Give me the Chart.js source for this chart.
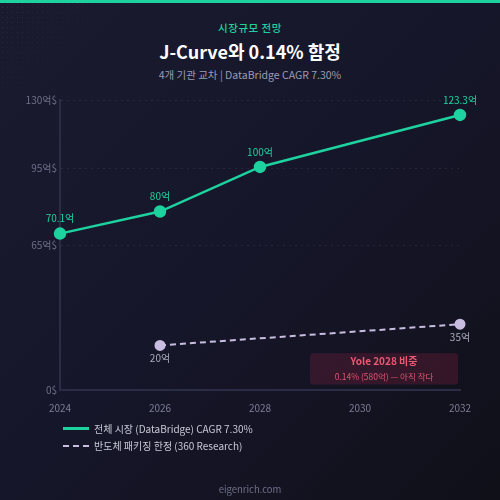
<!DOCTYPE html>
<html>
<head>
<meta charset="utf-8">
<script src="https://cdn.jsdelivr.net/npm/chart.js@4"></script>
<style>
  html, body { margin: 0; padding: 0; }
  body {
    width: 500px; height: 500px; overflow: hidden; position: relative;
    background: linear-gradient(135deg, #1b1b2f 0%, #16162a 50%, #101019 100%);
    font-family: "Noto Sans CJK KR", "Noto Sans", sans-serif;
  }
  .dots {
    position: absolute; left: 0; top: 0; width: 110px; height: 90px;
    background-image: radial-gradient(rgba(255,255,255,0.08) 0.7px, transparent 0.8px);
    background-size: 5px 5px;
    -webkit-mask-image: linear-gradient(135deg, #000 0%, transparent 70%);
  }
  .topbar { position: absolute; left: 0; top: 0; width: 500px; height: 3px; background: #1ed2a0; }
  .kicker { position: absolute; top: 20px; width: 100%; text-align: center; color: #1ed2a0; font-size: 10.5px; font-weight: 500; letter-spacing: 0.5px; }
  .title { position: absolute; top: 38px; width: 100%; text-align: center; color: #fff; font-size: 18px; font-weight: 700; }
  .sub { position: absolute; top: 67px; width: 100%; text-align: center; color: #9a9cb0; font-size: 10.5px; }
  .chartbox { position: absolute; left: 0; top: 0; width: 500px; height: 500px; }
  .legend { position: absolute; left: 63px; top: 420px; font-size: 10px; color: #c8c9d6; }
  .legend div { display: flex; align-items: center; height: 17px; }
  .legend span.sw { display: inline-block; width: 26px; margin-right: 5px; }
  .footer { position: absolute; top: 482px; width: 100%; text-align: center; color: #6e7088; font-size: 9.5px; }
</style>
</head>
<body>
<div class="topbar"></div>
<div class="dots"></div>
<div class="kicker">시장규모 전망</div>
<div class="title">J-Curve와 0.14% 함정</div>
<div class="sub">4개 기관 교차 | DataBridge CAGR 7.30%</div>
<div class="chartbox"><canvas id="chart"></canvas></div>
<div class="legend">
  <div><span class="sw" style="border-top:3px solid #1ed2a0"></span>전체 시장 (DataBridge) CAGR 7.30%</div>
  <div><span class="sw" style="border-top:2.5px dashed #c8bde0"></span>반도체 패키징 한정 (360 Research)</div>
</div>
<div class="footer">eigenrich.com</div>
<script>
// Data
const years = ['2024', '2026', '2028', '2030', '2032'];
const marketValues = [70.1, 80, 100, null, 123.3];
const marketLabels = ['70.1억', '80억', '100억', null, '123.3억'];
const packagingValues = [null, 20, null, null, 29.5];
const packagingLabels = [null, '20억', null, null, '35억'];
const yTickValues = [0, 65, 99.5, 130];
const yTickLabels = ['0$', '65억$', '95억$', '130억$'];
const noteTitle = 'Yole 2028 비중';
const noteText = '0.14% (580억) — 아직 작다';

const GREEN = '#1ed2a0';
const LAVENDER = '#c8bde0';
const FONT = '"Noto Sans CJK KR", "Noto Sans", sans-serif';

// Point labels drawn next to each point
const pointLabels = {
  id: 'pointLabels',
  afterDatasetsDraw(chart) {
    const ctx = chart.ctx;
    chart.data.datasets.forEach((ds, i) => {
      const meta = chart.getDatasetMeta(i);
      meta.data.forEach((pt, j) => {
        const text = ds.pointText[j];
        if (!text) return;
        ctx.save();
        ctx.font = '10px ' + FONT;
        ctx.fillStyle = ds.labelColor;
        ctx.textAlign = 'center';
        ctx.textBaseline = 'middle';
        ctx.fillText(text, pt.x, pt.y + ds.labelOffset);
        ctx.restore();
      });
    });
  }
};

// Note box near the bottom right
const noteBox = {
  id: 'noteBox',
  afterDatasetsDraw(chart) {
    const ctx = chart.ctx;
    const x = chart.scales.x, y = chart.scales.y;
    const left = x.getPixelForValue(2.5);
    const right = x.getPixelForValue(3.98);
    const top = y.getPixelForValue(16.5);
    const bottom = y.getPixelForValue(2.5);
    ctx.save();
    ctx.fillStyle = 'rgba(190, 40, 80, 0.2)';
    ctx.beginPath();
    ctx.roundRect(left, top, right - left, bottom - top, 3);
    ctx.fill();
    ctx.textAlign = 'center';
    ctx.textBaseline = 'middle';
    ctx.fillStyle = '#ec5a74';
    ctx.font = 'bold 10px ' + FONT;
    ctx.fillText(noteTitle, (left + right) / 2, top + 8);
    ctx.fillStyle = '#d9566f';
    ctx.font = '8.5px ' + FONT;
    ctx.fillText(noteText, (left + right) / 2, top + 24);
    ctx.restore();
  }
};

new Chart(document.getElementById('chart'), {
  type: 'line',
  data: {
    labels: years,
    datasets: [
      {
        data: marketValues,
        pointText: marketLabels,
        labelColor: GREEN,
        labelOffset: -15,
        borderColor: GREEN,
        backgroundColor: GREEN,
        borderWidth: 2.5,
        pointRadius: 5,
        pointHoverRadius: 5,
        spanGaps: true,
        tension: 0
      },
      {
        data: packagingValues,
        pointText: packagingLabels,
        labelColor: '#a9aabb',
        labelOffset: 13,
        borderColor: LAVENDER,
        backgroundColor: LAVENDER,
        borderWidth: 2,
        borderDash: [6, 4],
        pointRadius: 4.5,
        pointHoverRadius: 4.5,
        spanGaps: true,
        tension: 0
      }
    ]
  },
  options: {
    responsive: true,
    maintainAspectRatio: false,
    animation: false,
    layout: { padding: { top: 100, right: 40, bottom: 85, left: 0 } },
    plugins: { legend: { display: false }, tooltip: { enabled: false } },
    scales: {
      x: {
        grid: { display: false },
        border: { color: '#2b2d46', width: 2 },
        ticks: { color: '#7c7e96', font: { size: 10, family: FONT }, padding: 4, maxRotation: 0 },
        afterFit(scale) { scale.height = 25; }
      },
      y: {
        min: 0,
        max: 130,
        afterBuildTicks(scale) { scale.ticks = yTickValues.map(v => ({ value: v })); },
        grid: {
          color: 'rgba(255,255,255,0.07)',
          tickLength: 0,
          drawTicks: false
        },
        border: { color: '#2b2d46', width: 2, dash: [2, 4] },
        ticks: {
          color: '#6e7089',
          font: { size: 10, family: FONT },
          padding: 3,
          callback: (v) => yTickLabels[yTickValues.indexOf(v)]
        },
        afterFit(scale) { scale.width = 60; }
      }
    }
  },
  plugins: [pointLabels, noteBox]
});
</script>
</body>
</html>
